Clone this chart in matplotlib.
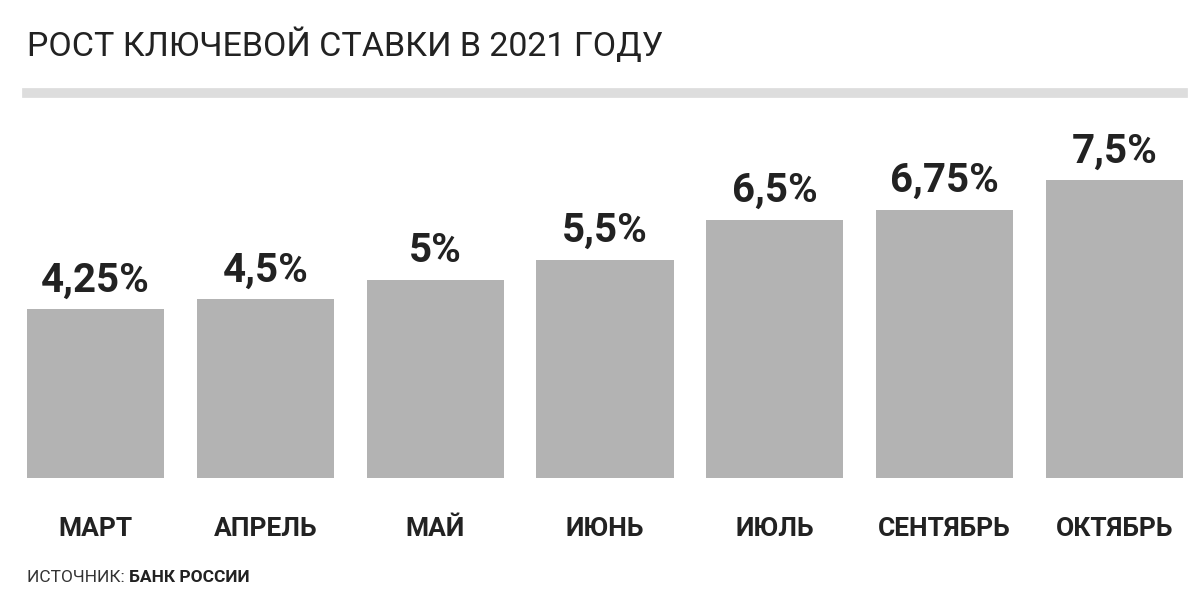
import matplotlib
matplotlib.use("Agg")
import matplotlib.pyplot as plt
from matplotlib.lines import Line2D

months = ["МАРТ", "АПРЕЛЬ", "МАЙ", "ИЮНЬ", "ИЮЛЬ", "СЕНТЯБРЬ", "ОКТЯБРЬ"]
rates = [4.25, 4.5, 5.0, 5.5, 6.5, 6.75, 7.5]
labels = ["4,25%", "4,5%", "5%", "5,5%", "6,5%", "6,75%", "7,5%"]

plt.rcParams['font.family'] = ['Roboto', 'DejaVu Sans']
fig = plt.figure(figsize=(12, 6), dpi=100)
ax = fig.add_axes([27/1200, 1-478/600, 1156/1200, 378/600])
x = list(range(len(months)))
w = 0.807
ax.bar(x, rates, width=w, color="#b3b3b3")
ax.set_xlim(-w/2, len(months)-1+w/2)
ax.set_ylim(0, 378/39.7)
for xi, r, l in zip(x, rates, labels):
    ax.text(xi, r + 0.25, l, ha="center", va="bottom", fontsize=29, fontweight="bold", color="#222222")
ax.set_xticks(x)
ax.set_xticklabels(months, fontsize=19, fontweight="bold", color="#222222")
ax.tick_params(axis="x", length=0, pad=28)
ax.set_yticks([])
for s in ax.spines.values():
    s.set_visible(False)

fig.text(27/1200, 1-45/600, "РОСТ КЛЮЧЕВОЙ СТАВКИ В 2021 ГОДУ", fontsize=24.5, va="center", ha="left", color="#222222")
fig.add_artist(Line2D([27/1200, 1183/1200], [1-93/600]*2, color="#dddddd", lw=7, transform=fig.transFigure))
t = fig.text(27/1200, 1-578/600, "ИСТОЧНИК: ", fontsize=12.5, va="center", ha="left", color="#333333")
fig.canvas.draw()
bb = t.get_window_extent()
fig.text(bb.x1/1200, 1-578/600, "БАНК РОССИИ", fontsize=12.5, fontweight="bold", va="center", ha="left", color="#222222")
fig.savefig("out.png", dpi=100)
